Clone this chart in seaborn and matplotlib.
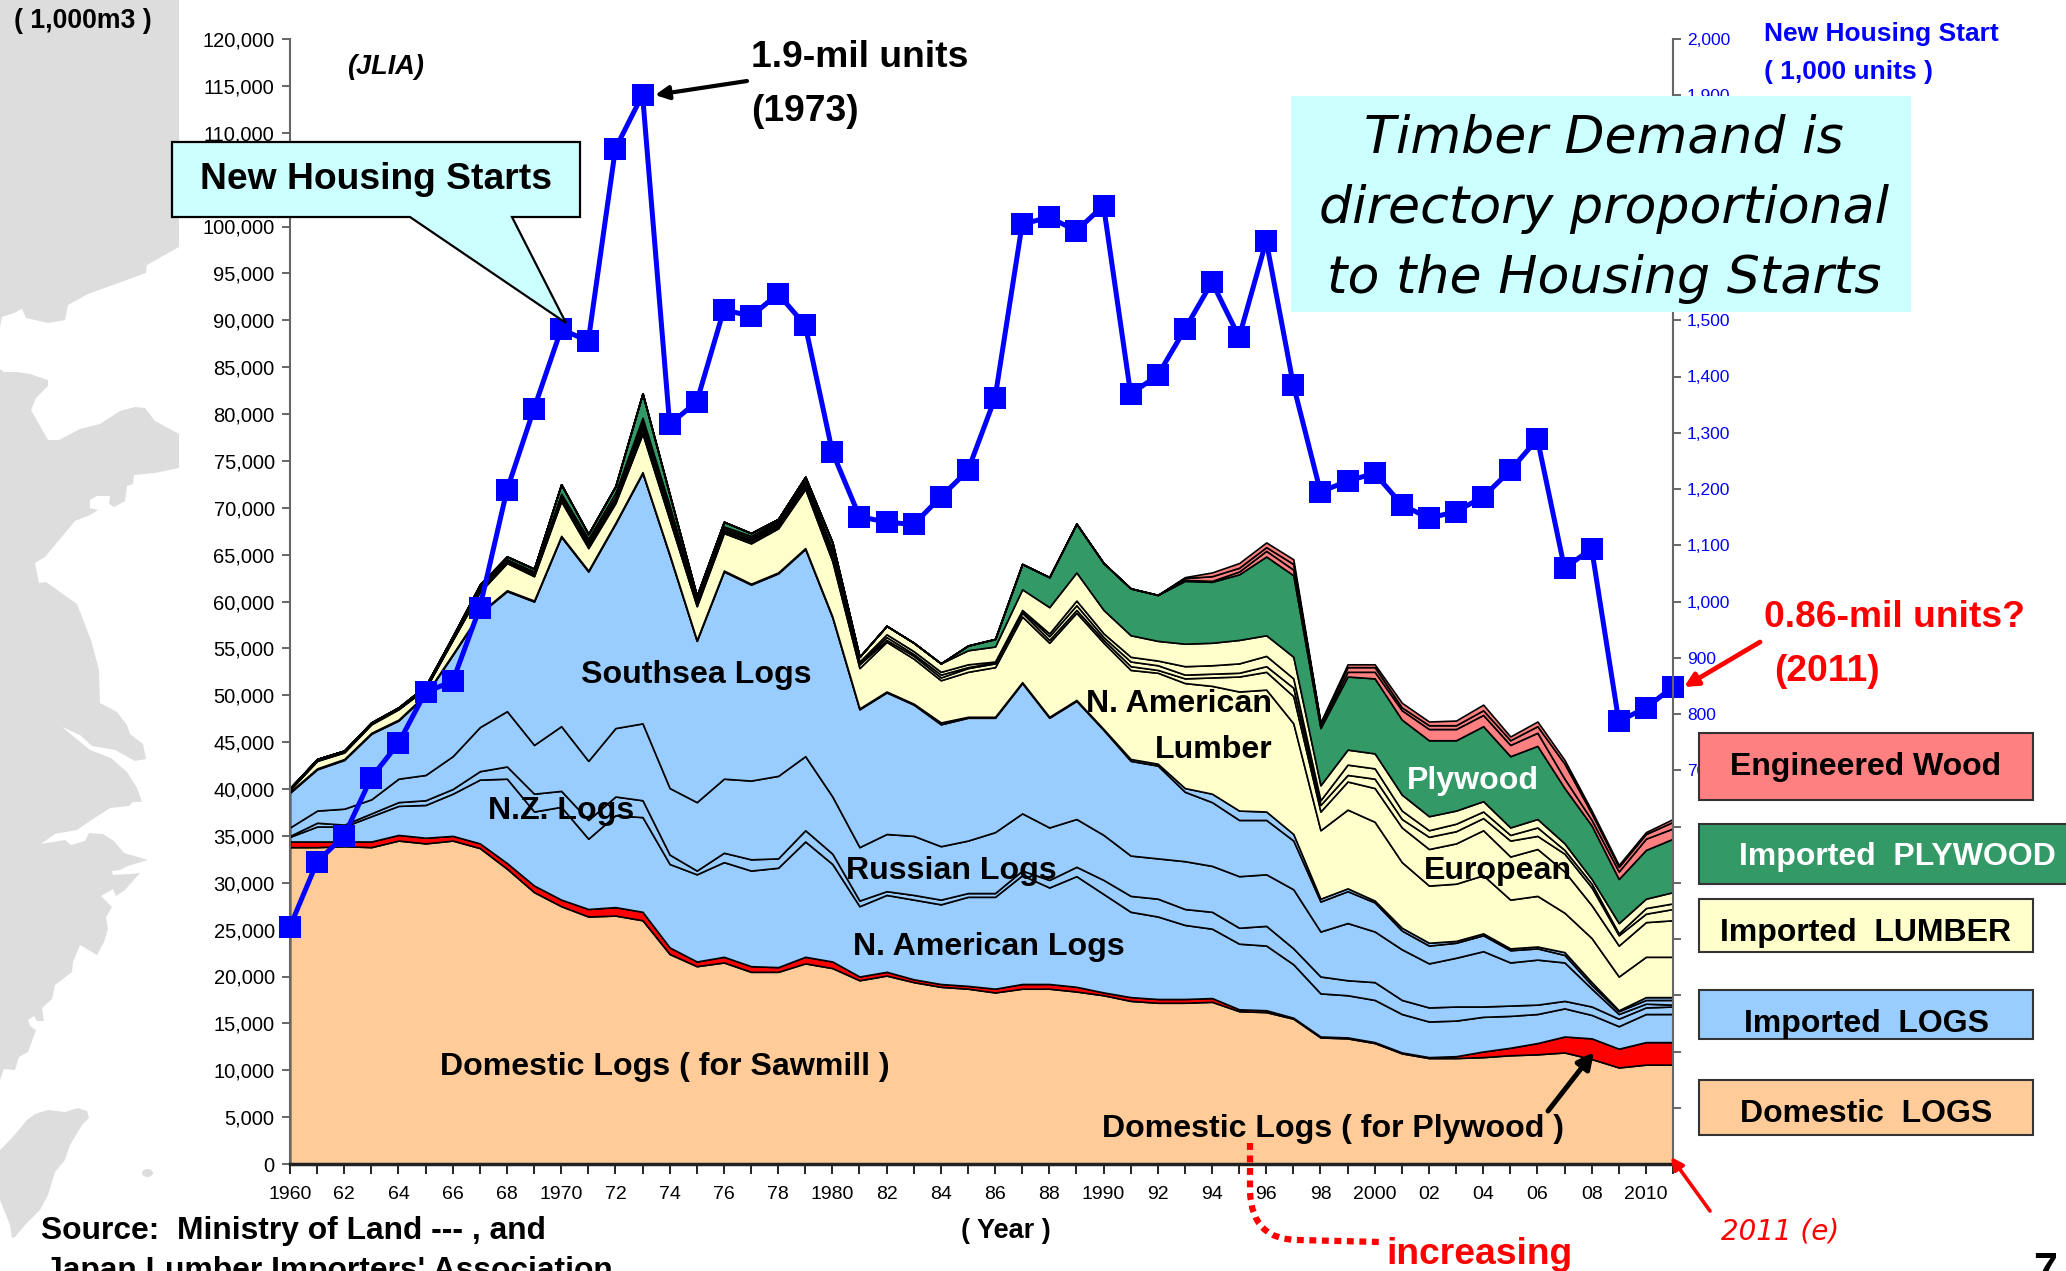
import numpy as np
import pandas as pd
import matplotlib
matplotlib.use("Agg")
import matplotlib.pyplot as plt
from matplotlib.patches import Polygon, Rectangle, Ellipse, PathPatch
from matplotlib.path import Path
from matplotlib.ticker import FuncFormatter, MultipleLocator
import seaborn as sns

years = list(range(1960, 2012))

# new housing starts, 1,000 units
housing = [422, 537, 584, 687, 748, 839, 858, 989, 1198, 1343,
           1484, 1463, 1805, 1901, 1315, 1355, 1519, 1507, 1547, 1491,
           1266, 1151, 1141, 1137, 1186, 1233, 1362, 1671, 1683, 1659,
           1704, 1369, 1402, 1484, 1568, 1470, 1641, 1385, 1195, 1214,
           1228, 1172, 1148, 1160, 1186, 1233, 1289, 1059, 1094, 787, 811, 848]

# cumulative tops of the stacked layers, million m3
domestic_saw = [33.8, 33.8, 33.9, 33.8, 34.5, 34.2, 34.5, 33.7, 31.5, 29.0,
                27.5, 26.4, 26.5, 26.0, 22.4, 21.1, 21.5, 20.5, 20.5, 21.4,
                20.9, 19.6, 20.1, 19.4, 18.9, 18.7, 18.3, 18.7, 18.7, 18.4,
                18.0, 17.4, 17.2, 17.2, 17.3, 16.3, 16.2, 15.5, 13.5, 13.4,
                12.9, 11.8, 11.3, 11.3, 11.4, 11.6, 11.7, 11.9, 11.2, 10.3, 10.6, 10.6]
domestic_ply = [34.4, 34.4, 34.4, 34.4, 35.1, 34.8, 35.0, 34.2, 32.1, 29.7,
                28.2, 27.2, 27.4, 26.9, 23.1, 21.6, 22.1, 21.1, 21.0, 22.1,
                21.6, 20.0, 20.5, 19.7, 19.2, 19.0, 18.7, 19.2, 19.2, 18.9,
                18.3, 17.8, 17.6, 17.6, 17.7, 16.5, 16.4, 15.6, 13.6, 13.5,
                13.0, 11.9, 11.4, 11.5, 12.0, 12.4, 12.9, 13.6, 13.4, 12.3, 13.0, 13.0]
logs_namerica = [34.9, 36.0, 36.0, 37.1, 38.2, 38.3, 39.5, 41.0, 41.1, 37.6,
                 38.1, 34.7, 37.2, 37.0, 32.0, 30.9, 32.2, 31.3, 31.6, 34.4,
                 32.0, 27.5, 28.7, 28.2, 27.7, 28.5, 28.5, 30.8, 29.5, 30.7,
                 28.8, 26.9, 26.4, 25.5, 25.1, 23.5, 23.3, 21.3, 18.2, 18.0,
                 17.5, 16.0, 15.2, 15.3, 15.7, 15.8, 16.0, 16.6, 15.9, 14.7, 16.0, 16.0]
logs_nz = [35.0, 36.4, 36.2, 37.4, 38.6, 38.8, 40.0, 41.9, 42.4, 39.5,
           39.8, 36.7, 39.2, 38.8, 33.0, 31.3, 33.2, 32.5, 32.6, 35.6,
           33.1, 28.1, 29.1, 28.7, 28.2, 28.9, 28.9, 31.3, 30.3, 31.7,
           30.3, 28.6, 28.3, 27.2, 26.9, 25.2, 25.4, 23.0, 20.0, 19.6,
           19.4, 17.5, 16.7, 16.8, 16.8, 16.9, 17.0, 17.4, 16.8, 15.5, 16.7, 16.8]
logs_russia = [35.9, 37.7, 37.9, 38.9, 41.1, 41.5, 43.5, 46.6, 48.3, 44.7,
               46.7, 43.0, 46.5, 47.0, 40.1, 38.6, 41.1, 40.9, 41.4, 43.5,
               39.2, 33.8, 35.2, 35.0, 33.9, 34.5, 35.4, 37.4, 35.9, 36.8,
               35.1, 32.9, 32.6, 32.3, 31.8, 30.7, 30.9, 29.3, 24.8, 25.7,
               24.8, 22.9, 21.4, 22.0, 22.7, 21.5, 21.8, 21.5, 18.7, 16.0, 17.1, 17.0]
logs_southsea = [39.6, 42.1, 43.1, 45.9, 47.3, 50.0, 54.3, 58.7, 61.1, 60.0,
                 66.9, 63.2, 68.3, 73.7, 64.9, 55.8, 63.2, 61.8, 63.0, 65.6,
                 58.3, 48.5, 50.3, 49.0, 46.9, 47.6, 47.6, 51.3, 47.6, 49.4,
                 46.3, 43.0, 42.5, 39.7, 38.6, 36.7, 36.7, 34.5, 28.0, 29.1,
                 27.9, 24.9, 23.3, 23.6, 24.4, 22.8, 23.0, 22.3, 19.1, 16.3, 17.5, 17.5]
logs_other = [39.7, 42.2, 43.2, 46.0, 47.4, 50.1, 54.4, 58.8, 61.2, 60.1,
              67.0, 63.3, 68.4, 73.8, 65.0, 55.9, 63.3, 61.9, 63.1, 65.7,
              58.4, 48.6, 50.4, 49.1, 47.1, 47.7, 47.7, 51.4, 47.7, 49.5,
              46.4, 43.2, 42.7, 40.1, 39.5, 37.7, 37.6, 35.2, 28.3, 29.4,
              28.1, 25.2, 23.6, 23.8, 24.6, 23.0, 23.2, 22.6, 19.4, 16.4, 17.8, 17.8]
lumber_namerica = [39.9, 43.0, 43.9, 46.9, 48.5, 50.7, 55.9, 61.0, 64.1, 62.7,
                   70.7, 65.7, 70.5, 77.9, 68.7, 59.5, 67.3, 66.2, 67.8, 72.0,
                   64.3, 52.9, 55.7, 53.9, 51.6, 52.5, 53.0, 58.4, 55.6, 58.8,
                   55.6, 52.7, 52.4, 51.3, 51.0, 50.4, 50.6, 47.0, 35.6, 37.8,
                   36.5, 32.2, 29.7, 29.9, 30.8, 28.2, 28.6, 26.8, 24.1, 20.0, 22.1, 22.1]
lumber_europe = [40.0, 43.05, 43.95, 47.0, 48.55, 50.75, 55.95, 61.2, 64.25, 62.9,
                 70.9, 65.9, 70.8, 78.4, 69.0, 59.7, 67.5, 66.4, 68.0, 72.3,
                 64.6, 53.3, 55.9, 54.2, 51.9, 52.9, 53.4, 58.8, 55.9, 59.1,
                 55.9, 53.1, 52.7, 51.8, 51.9, 52.0, 52.5, 49.9, 37.6, 40.8,
                 40.1, 35.9, 33.6, 34.2, 35.6, 32.8, 33.6, 31.2, 27.6, 23.3, 25.8, 26.0]
lumber_russia = [40.0, 43.1, 44.0, 47.0, 48.6, 50.8, 56.0, 61.3, 64.35, 63.0,
                 71.1, 66.1, 71.0, 78.8, 69.3, 59.9, 67.6, 66.6, 68.2, 72.5,
                 64.9, 53.4, 56.2, 54.4, 52.2, 53.0, 53.5, 59.0, 56.3, 59.6,
                 56.2, 53.6, 53.2, 52.2, 52.3, 52.4, 53.1, 50.8, 38.3, 41.5,
                 41.1, 36.8, 34.9, 35.5, 36.9, 34.5, 35.0, 33.1, 29.5, 24.4, 26.7, 27.2]
lumber_nz = [40.0, 43.15, 44.05, 47.05, 48.65, 50.85, 56.1, 61.4, 64.4, 63.1,
             71.3, 66.4, 71.2, 79.2, 69.6, 60.1, 67.8, 66.8, 68.4, 72.7,
             65.2, 53.6, 56.5, 54.7, 52.5, 53.3, 53.6, 59.1, 56.6, 60.1,
             56.6, 54.1, 53.7, 53.1, 53.2, 53.4, 54.2, 51.8, 38.8, 42.6,
             42.2, 37.7, 35.6, 36.3, 37.6, 35.1, 35.9, 33.5, 29.9, 24.6, 27.3, 27.8]
lumber_other = [40.1, 43.2, 44.1, 47.1, 48.7, 50.9, 56.2, 61.6, 64.5, 63.2,
                71.5, 66.7, 71.6, 79.6, 70.2, 60.3, 68.0, 67.0, 68.6, 72.9,
                65.6, 54.1, 57.4, 55.6, 53.4, 54.8, 55.2, 61.3, 59.4, 63.1,
                59.1, 56.4, 55.8, 55.5, 55.6, 55.9, 56.4, 54.1, 40.4, 44.2,
                43.8, 39.4, 37.1, 37.7, 38.7, 35.9, 36.8, 34.2, 30.4, 25.7, 28.3, 29.0]
plywood = [40.1, 43.2, 44.1, 47.1, 48.7, 51.0, 56.3, 61.8, 64.8, 63.5,
           72.5, 67.2, 72.3, 82.2, 71.4, 60.6, 68.5, 67.3, 68.8, 73.3,
           66.3, 54.1, 57.4, 55.6, 53.4, 55.3, 56.0, 64.0, 62.6, 68.3,
           64.1, 61.4, 60.7, 62.2, 62.1, 62.9, 64.8, 62.8, 46.5, 52.0,
           51.8, 47.4, 45.2, 45.2, 46.7, 43.5, 44.6, 40.1, 36.1, 30.4, 33.5, 34.7]
engineered_a = [40.1, 43.2, 44.1, 47.1, 48.7, 51.0, 56.3, 61.8, 64.8, 63.5,
                72.5, 67.2, 72.3, 82.2, 71.4, 60.6, 68.5, 67.3, 68.8, 73.3,
                66.3, 54.1, 57.4, 55.6, 53.4, 55.3, 56.0, 64.0, 62.6, 68.3,
                64.1, 61.4, 60.7, 62.3, 62.2, 63.2, 65.4, 63.4, 46.7, 52.5,
                52.5, 48.4, 46.4, 46.4, 47.9, 44.7, 46.0, 41.1, 36.7, 31.2, 34.7, 35.8]
engineered_b = [40.1, 43.2, 44.1, 47.1, 48.7, 51.0, 56.3, 61.8, 64.8, 63.5,
                72.5, 67.2, 72.3, 82.2, 71.4, 60.6, 68.5, 67.3, 68.8, 73.3,
                66.3, 54.1, 57.4, 55.6, 53.4, 55.3, 56.0, 64.0, 62.6, 68.3,
                64.1, 61.4, 60.7, 62.5, 62.7, 63.6, 65.8, 64.0, 47.0, 53.0,
                53.0, 48.7, 46.8, 46.8, 48.4, 45.2, 46.7, 42.7, 37.4, 31.7, 35.2, 36.5]
total = [40.1, 43.2, 44.1, 47.1, 48.7, 51.0, 56.3, 61.8, 64.8, 63.5,
         72.5, 67.2, 72.3, 82.2, 71.4, 60.6, 68.5, 67.3, 68.8, 73.3,
         66.3, 54.1, 57.4, 55.6, 53.4, 55.3, 56.0, 64.0, 62.6, 68.3,
         64.1, 61.4, 60.7, 62.6, 63.1, 64.1, 66.3, 64.5, 47.1, 53.3,
         53.3, 49.2, 47.2, 47.3, 49.0, 45.6, 47.2, 43.1, 37.7, 31.9, 35.4, 36.8]

x_labels = ["1960", "62", "64", "66", "68", "1970", "72", "74", "76", "78", "1980", "82", "84",
            "86", "88", "1990", "92", "94", "96", "98", "2000", "02", "04", "06", "08", "2010"]

PEACH = "#FFCC99"
RED = "#FF0000"
SKY = "#99CCFF"
CREAM = "#FFFFCC"
GREEN = "#339966"
PINK = "#FF8080"
CYAN = "#CCFFFF"
BLUE = "#0000FF"
GREY = "#666666"

sns.set_theme(style="white")
plt.rcParams["font.family"] = ["Liberation Sans", "DejaVu Sans"]

W, H = 2066, 1271
fig = plt.figure(figsize=(W / 100, H / 100), dpi=100)

# background map, drawn in pixels
bg = fig.add_axes([0, 0, 1, 1], zorder=0)
bg.set_xlim(0, W)
bg.set_ylim(H, 0)
bg.axis("off")
land_north = [(0, 0), (179, 0), (179, 247), (147, 265), (146, 273), (88, 294), (68, 305), (65, 320),
              (48, 323), (26, 318), (22, 309), (14, 313), (2, 317), (0, 327)]
land_main = [(0, 369), (4, 372), (17, 372), (30, 374), (48, 380), (48, 386), (36, 398), (31, 410), (48, 440),
             (59, 440), (80, 429), (100, 424), (120, 411), (135, 407), (145, 408), (155, 421), (179, 434),
             (179, 468), (155, 473), (134, 475), (133, 484), (127, 486), (125, 501), (114, 507), (109, 504),
             (110, 496), (97, 496), (90, 500), (90, 508), (98, 510), (90, 515), (75, 521), (45, 557), (35, 563),
             (39, 583), (46, 582), (77, 604), (91, 640), (99, 670), (100, 703), (117, 712), (127, 725), (130, 734),
             (143, 744), (146, 759), (135, 761), (115, 750), (92, 746), (80, 735), (62, 727), (90, 750), (111, 758),
             (127, 772), (137, 788), (142, 802), (133, 802), (129, 806), (110, 808), (93, 819), (77, 830), (55, 834),
             (41, 844), (65, 840), (71, 845), (85, 841), (89, 833), (103, 834), (114, 841), (124, 853), (148, 860),
             (128, 866), (120, 870), (112, 871), (113, 875), (130, 874), (140, 873), (125, 890), (116, 896), (113, 889),
             (101, 896), (112, 907), (106, 917), (108, 929), (104, 942), (97, 955), (80, 945), (73, 962), (72, 972),
             (55, 985), (52, 999), (42, 1008), (44, 1021), (37, 1021), (34, 1016), (28, 1020), (30, 1026), (36, 1030),
             (28, 1052), (19, 1057), (15, 1070), (4, 1069), (0, 1080)]
land_taiwan = [(0, 1150), (10, 1140), (17, 1132), (27, 1120), (35, 1114), (48, 1110), (65, 1112), (78, 1108),
               (87, 1111), (89, 1118), (82, 1125), (70, 1145), (65, 1160), (55, 1172), (48, 1195), (40, 1210),
               (25, 1225), (15, 1237), (12, 1238), (10, 1225), (0, 1200)]
for land in [land_north, land_main, land_taiwan]:
    bg.add_patch(Polygon(land, closed=True, fc="#DDDDDD", ec="none"))
bg.add_patch(Ellipse((147.5, 1173), 11, 8, fc="#DDDDDD", ec="none"))

# main axes: left 290, right 1673, bottom 1164, top 39
ax = fig.add_axes([290 / W, 1 - 1164 / H, (1673 - 290) / W, (1164 - 39) / H], zorder=1)
ax.patch.set_visible(False)

tops = np.array([domestic_saw, domestic_ply, logs_namerica, logs_nz, logs_russia, logs_southsea, logs_other,
                 lumber_namerica, lumber_europe, lumber_russia, lumber_nz, lumber_other,
                 plywood, engineered_a, engineered_b, total]) * 1000
layers = np.diff(tops, axis=0, prepend=0)
layer_colors = [PEACH, RED] + [SKY] * 5 + [CREAM] * 5 + [GREEN] + [PINK] * 3
ax.stackplot(years, layers, colors=layer_colors, edgecolor="black", linewidth=1.2)

ax.set_xlim(1960, 2011)
ax.set_ylim(0, 120000)
ax.yaxis.set_major_locator(MultipleLocator(5000))
ax.yaxis.set_major_formatter(FuncFormatter(lambda v, p: f"{int(v):,}"))
ax.set_xticks(years[:-1] + [2011])
ax.set_xticklabels([x_labels[i // 2] if i % 2 == 0 else "" for i in range(51)] + [""])
ax.tick_params(axis="y", length=6, width=1.4, color=GREY, labelsize=14.5, labelcolor="black", pad=5, left=True)
ax.tick_params(axis="x", length=7, width=1.4, color="#222222", labelsize=14, labelcolor="black", pad=9, bottom=True)
ax.set_xlabel("")
ax.set_ylabel("")
for side in ["top", "right"]:
    ax.spines[side].set_visible(False)
ax.spines["left"].set_color(GREY)
ax.spines["left"].set_linewidth(1.5)
ax.spines["bottom"].set_color("#222222")
ax.spines["bottom"].set_linewidth(2.5)

# housing starts on the right axis
ax2 = ax.twinx()
ax2.patch.set_visible(False)
housing_df = pd.DataFrame({"year": years, "starts": housing})
sns.lineplot(data=housing_df, x="year", y="starts", ax=ax2, color=BLUE, linewidth=3.6, marker="s",
             markersize=15.5, markeredgewidth=0, errorbar=None, clip_on=False)
ax2.set_ylim(0, 2000)
ax2.set_xlim(1960, 2011)
ax2.set_xlabel("")
ax2.set_ylabel("")
ax2.yaxis.set_major_locator(MultipleLocator(100))
ax2.yaxis.set_major_formatter(FuncFormatter(lambda v, p: f"{int(v):,}" if v >= 700 else ""))
ax2.tick_params(axis="y", length=6, width=1.4, color=GREY, labelsize=12.5, labelcolor=BLUE, pad=4, right=True)
for side in ["top", "left", "bottom"]:
    ax2.spines[side].set_visible(False)
ax2.spines["right"].set_color(GREY)
ax2.spines["right"].set_linewidth(1.5)

# annotations, drawn in pixels on top of everything
top = fig.add_axes([0, 0, 1, 1], zorder=5)
top.set_xlim(0, W)
top.set_ylim(H, 0)
top.axis("off")
top.patch.set_visible(False)


def label(x, y, s, size=23.1, color="black", ha="left", **kw):
    kw.setdefault("weight", "bold")
    top.text(x, y + 3.5, s, fontsize=size, color=color, ha=ha, va="center", **kw)


def arrow(start, end, color="black", lw=3.0, scale=20):
    top.annotate("", xy=end, xytext=start,
                 arrowprops=dict(arrowstyle="-|>", color=color, lw=lw, mutation_scale=scale,
                                 shrinkA=0, shrinkB=0))


label(14, 18, "( 1,000m3 )", size=19.2)
label(347, 63, "(JLIA)", size=19.5, style="italic")
label(751, 54, "1.9-mil units", size=26.8)
label(751, 108, "(1973)", size=26.8)
arrow((747, 81), (655, 95))

# New Housing Starts callout
top.add_patch(Polygon([(172, 142), (580, 142), (580, 217), (512, 217), (566, 323), (410, 217), (172, 217)],
                      closed=True, fc=CYAN, ec="black", lw=1.6))
label(376, 176, "New Housing Starts", size=26.8, ha="center")

# message box
top.add_patch(Rectangle((1291, 96), 620, 216, fc=CYAN, ec="none"))
for yy, line in zip([135, 205, 275], ["Timber Demand is", "directory proportional", "to the Housing Starts"]):
    label(1604, yy, line, size=37.5, ha="center", weight="normal", style="italic", family="DejaVu Sans")

label(1764, 31, "New Housing Start", size=19, color=BLUE)
label(1764, 69, "( 1,000 units )", size=19, color=BLUE)
label(1764, 614, "0.86-mil units?", size=26.8, color=RED)
label(1774, 668, "(2011)", size=26.8, color=RED)
arrow((1760, 642), (1684, 687), color=RED, lw=3.4)

label(581, 671, "Southsea Logs")
label(488, 807, "N.Z. Logs")
label(846, 868, "Russian Logs")
label(853, 943, "N. American Logs")
label(440, 1064, "Domestic Logs ( for Sawmill )")
label(1102, 1125, "Domestic Logs ( for Plywood )")
label(1086, 701, "N. American")
label(1155, 747, "Lumber")
label(1407, 777, "Plywood", color="white")
label(1424, 868, "European")
arrow((1548, 1111), (1594, 1052), lw=3.6, scale=24)

label(41, 1228, "Source:  Ministry of Land --- , and", size=22.9)
label(45, 1267, "Japan Lumber Importers' Association", size=22.9)
label(961, 1228, "( Year )", size=19.5)
label(1386, 1251, "increasing", size=26.8, color=RED)
label(1721, 1228, "2011 (e)", size=20, color=RED, weight="normal", style="italic", family="DejaVu Sans")
arrow((1710, 1211), (1671, 1157), color=RED, lw=2.6, scale=18)
label(2033, 1268, "7", size=31)

# dotted curve under the year axis
curve = Path([(1250, 1143), (1250, 1192), (1252, 1240), (1298, 1240), (1380, 1242)],
             [Path.MOVETO, Path.LINETO, Path.CURVE3, Path.CURVE3, Path.LINETO])
top.add_patch(PathPatch(curve, fc="none", ec=RED, lw=4.5, ls=(0, (1.1, 0.9))))

# legend boxes
boxes = [(733, 800, 2033, PINK, "Engineered Wood", "black", 1866, 763.5),
         (824, 884, 2075, GREEN, "Imported  PLYWOOD", "white", 1897, 854),
         (899, 952, 2033, CREAM, "Imported  LUMBER", "black", 1866, 929),
         (990, 1039, 2033, SKY, "Imported  LOGS", "black", 1866, 1020.5),
         (1080, 1135, 2033, PEACH, "Domestic  LOGS", "black", 1866, 1111)]
for y0, y1, x1, fc, txt, tc, cx, cy in boxes:
    top.add_patch(Rectangle((1699, y0), x1 - 1699, y1 - y0, fc=fc, ec="#333333", lw=1.5))
    label(cx, cy, txt, size=23, color=tc, ha="center")

plt.savefig("out.png", dpi=100)
plt.close()
